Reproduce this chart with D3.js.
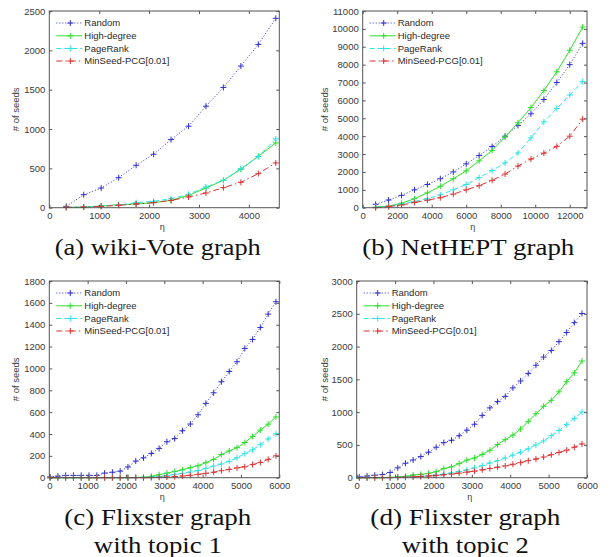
<!DOCTYPE html>
<html><head><meta charset="utf-8">
<script src="https://cdn.jsdelivr.net/npm/d3@7"></script>
<style>
html,body{margin:0;padding:0;background:#fff;}
svg{display:block;}
.cap{font-family:"Liberation Serif","DejaVu Serif","Times New Roman",serif;}
</style>
</head><body>
<svg id="chart" width="612" height="557"></svg>
<script>
// ---------- data ----------
const seriesNames = ["Random", "High-degree", "PageRank", "MinSeed-PCG[0.01]"];
const xLabel = "η";
const yLabel = "# of seeds";

// (a) wiki-Vote
const etaA = [340, 690, 1040, 1390, 1740, 2090, 2440, 2790, 3140, 3490, 3840, 4190, 4540];
const randomA = [17, 165, 250, 382, 539, 679, 866, 1036, 1290, 1528, 1800, 2076, 2407];
const highDegreeA = [4, 8, 21, 38, 47, 64, 93, 157, 250, 348, 488, 654, 823];
const pageRankA = [2, 8, 21, 34, 64, 81, 115, 170, 263, 348, 497, 650, 874];
const minSeedA = [4, 8, 17, 30, 47, 64, 93, 136, 187, 255, 323, 433, 569];
const xTicksA = [0, 1000, 2000, 3000, 4000];
const yTicksA = [0, 500, 1000, 1500, 2000, 2500];
const captionA = ["(a) wiki-Vote graph"];

// (b) NetHEPT
const etaB = [750, 1500, 2250, 3000, 3750, 4500, 5250, 6000, 6750, 7500, 8250, 9000, 9750, 10500, 11250, 12000, 12750];
const randomB = [190, 430, 690, 1000, 1300, 1620, 2000, 2450, 2920, 3420, 4000, 4600, 5250, 6050, 7000, 8000, 9190];
const highDegreeB = [30, 90, 250, 500, 830, 1200, 1620, 2060, 2620, 3200, 3950, 4750, 5600, 6550, 7600, 8800, 10100];
const pageRankB = [20, 80, 200, 350, 500, 720, 1000, 1300, 1680, 2080, 2500, 3060, 3900, 4800, 5550, 6300, 7050];
const minSeedB = [0, 60, 150, 290, 420, 560, 760, 1000, 1230, 1530, 1880, 2330, 2720, 3050, 3430, 4000, 4950];
const xTicksB = [0, 2000, 4000, 6000, 8000, 10000, 12000];
const yTicksB = [0, 1000, 2000, 3000, 4000, 5000, 6000, 7000, 8000, 9000, 10000, 11000];
const captionB = ["(b) NetHEPT graph"];

// (c) Flixster, topic 1
const etaC = [20, 223, 426, 630, 833, 1036, 1239, 1442, 1646, 1849, 2052, 2255, 2458, 2662, 2865, 3068, 3271, 3474, 3678, 3881, 4084, 4287, 4490, 4694, 4897, 5100, 5303, 5506, 5710, 5913];
const randomC = [6, 14, 21, 21, 21, 21, 21, 42, 50, 60, 98, 152, 182, 222, 268, 329, 358, 430, 491, 576, 680, 777, 878, 972, 1061, 1183, 1265, 1375, 1497, 1610];
const highDegreeC = [0, 0, 0, 0, 0, 0, 0, 0, 0, 0, 0, 2, 4, 12, 28, 42, 57, 72, 92, 110, 138, 168, 212, 245, 275, 322, 378, 435, 490, 556];
const pageRankC = [0, 0, 0, 0, 0, 0, 0, 0, 0, 0, 0, 0, 2, 5, 10, 20, 30, 40, 52, 66, 86, 106, 126, 150, 182, 220, 255, 302, 355, 402];
const minSeedC = [0, 0, 0, 0, 0, 0, 0, 0, 0, 0, 0, 0, 0, 1, 3, 6, 10, 16, 22, 30, 40, 50, 64, 76, 90, 100, 120, 140, 168, 200];
const xTicksC = [0, 1000, 2000, 3000, 4000, 5000, 6000];
const yTicksC = [0, 200, 400, 600, 800, 1000, 1200, 1400, 1600, 1800];
const captionC = ["(c) Flixster graph", "with topic 1"];

// (d) Flixster, topic 2
const etaD = [70, 270, 470, 670, 870, 1070, 1270, 1470, 1670, 1870, 2070, 2270, 2470, 2670, 2870, 3070, 3270, 3470, 3670, 3870, 4070, 4270, 4470, 4670, 4870, 5070, 5270, 5470, 5670, 5870];
const randomD = [12, 25, 38, 48, 80, 150, 220, 270, 322, 388, 465, 535, 570, 640, 725, 815, 950, 1065, 1160, 1240, 1370, 1475, 1590, 1715, 1840, 1940, 2075, 2215, 2365, 2505];
const highDegreeD = [0, 0, 0, 0, 5, 10, 20, 41, 51, 66, 92, 140, 165, 215, 268, 300, 355, 418, 505, 580, 650, 743, 860, 975, 1090, 1180, 1310, 1465, 1600, 1780];
const pageRankD = [0, 0, 0, 0, 0, 5, 8, 12, 20, 30, 40, 55, 75, 95, 120, 150, 185, 225, 260, 300, 345, 390, 440, 500, 560, 640, 720, 810, 905, 1002];
const minSeedD = [0, 0, 0, 1, 2, 5, 8, 12, 20, 25, 35, 45, 55, 70, 85, 100, 120, 140, 160, 180, 205, 230, 260, 285, 315, 350, 385, 420, 465, 515];
const xTicksD = [0, 1000, 2000, 3000, 4000, 5000, 6000];
const yTicksD = [0, 500, 1000, 1500, 2000, 2500, 3000];
const captionD = ["(d) Flixster graph", "with topic 2"];

// ---------- styles ----------
const colors = ["#3030d2", "#2ede2e", "#2fe3e3", "#dc3232"];
const dashes = ["1,2", null, "5,3", "6,3,1.5,3"];

const svg = d3.select("#chart");
const sans = "Liberation Sans, Arial, sans-serif";

function drawPanel(cfg) {
  const {box, xMax, yMax, xs, ys, xTicks, yTicks, caption, captionLens, ylabX} = cfg;
  const x = d3.scaleLinear().domain([0, xMax]).range([box.l, box.r]);
  const y = d3.scaleLinear().domain([0, yMax]).range([box.b, box.t]);
  const g = svg.append("g");

  // series
  ys.forEach((vals, si) => {
    const pts = xs.map((xv, i) => [xv, vals[i]]);
    const line = d3.line().x(d => x(d[0])).y(d => y(d[1]));
    const p = g.append("path").attr("d", line(pts))
      .attr("fill", "none").attr("stroke", colors[si]).attr("stroke-width", 1);
    if (dashes[si]) p.attr("stroke-dasharray", dashes[si]);
    g.selectAll(null).data(pts).enter().append("path")
      .attr("transform", d => `translate(${x(d[0])},${y(d[1])})`)
      .attr("d", "M-3,0H3M0,-3V3")
      .attr("stroke", colors[si]).attr("stroke-width", 1).attr("fill", "none");
  });

  // box
  g.append("rect").attr("x", box.l).attr("y", box.t)
    .attr("width", box.r - box.l).attr("height", box.b - box.t)
    .attr("fill", "none").attr("stroke", "#555").attr("stroke-width", 1);

  // axes (ticks inward)
  const xAxis = d3.axisBottom(x).tickValues(xTicks).tickSize(-3).tickPadding(5).tickFormat(d3.format("d"));
  const yAxis = d3.axisLeft(y).tickValues(yTicks).tickSize(-3).tickPadding(4).tickFormat(d3.format("d"));
  const gx = g.append("g").attr("transform", `translate(0,${box.b})`).call(xAxis);
  const gy = g.append("g").attr("transform", `translate(${box.l},0)`).call(yAxis);
  const gxt = g.append("g").attr("transform", `translate(0,${box.t})`).call(d3.axisTop(x).tickValues(xTicks).tickSize(-3).tickFormat(""));
  const gyr = g.append("g").attr("transform", `translate(${box.r},0)`).call(d3.axisRight(y).tickValues(yTicks).tickSize(-3).tickFormat(""));
  [gx, gy, gxt, gyr].forEach(a => {
    a.attr("font-family", null).attr("font-size", null);
    a.select(".domain").remove();
    a.selectAll(".tick line").attr("stroke", "#555");
    a.selectAll("text").attr("fill", "#3a3a3a").attr("font-family", sans).attr("font-size", 9.5);
  });

  // axis labels
  g.append("text").attr("x", (box.l + box.r) / 2 - 2).attr("y", box.b + 22)
    .attr("text-anchor", "middle").attr("font-family", sans).attr("font-size", 9).attr("fill", "#3a3a3a")
    .text(xLabel);
  g.append("text").attr("transform", `translate(${ylabX},${(box.t + box.b) / 2}) rotate(-90)`)
    .attr("text-anchor", "middle").attr("dy", "0.35em").attr("font-family", sans).attr("font-size", 9.5).attr("fill", "#3a3a3a")
    .text(yLabel);

  // legend
  const rowsDy = [12, 24.8, 37.5, 50];
  seriesNames.forEach((name, si) => {
    const ry = box.t + rowsDy[si];
    const l = g.append("line").attr("x1", box.l + 7).attr("x2", box.l + 33).attr("y1", ry).attr("y2", ry)
      .attr("stroke", colors[si]).attr("stroke-width", 1);
    if (dashes[si]) l.attr("stroke-dasharray", dashes[si]);
    g.append("path").attr("transform", `translate(${box.l + 21},${ry})`).attr("d", "M-3,0H3M0,-3V3")
      .attr("stroke", colors[si]).attr("stroke-width", 1);
    g.append("text").attr("x", box.l + 35).attr("y", ry).attr("dy", "0.35em")
      .attr("font-family", sans).attr("font-size", 9.5).attr("fill", "#2a2a2a").text(name);
  });

  // caption
  const cx = (box.l + box.r) / 2 - 6.5;
  caption.forEach((line, i) => {
    g.append("text").attr("class", "cap").attr("x", cx).attr("y", box.b + 47.5 + i * 28)
      .attr("text-anchor", "middle").attr("font-size", 23)
      .attr("fill", "#111")
      .attr("textLength", captionLens[i]).attr("lengthAdjust", "spacingAndGlyphs")
      .text(line);
  });
}

drawPanel({box: {l: 49.3, r: 279.3, t: 11, b: 207.7}, xMax: 4610, yMax: 2500,
  xs: etaA, ys: [randomA, highDegreeA, pageRankA, minSeedA], xTicks: xTicksA, yTicks: yTicksA,
  caption: captionA, captionLens: [206], ylabX: 16});
drawPanel({box: {l: 362.7, r: 587, t: 11, b: 207.7}, xMax: 13000, yMax: 11000,
  xs: etaB, ys: [randomB, highDegreeB, pageRankB, minSeedB], xTicks: xTicksB, yTicks: yTicksB,
  caption: captionB, captionLens: [212], ylabX: 324.3});
drawPanel({box: {l: 49.3, r: 279.3, t: 281, b: 477.7}, xMax: 6000, yMax: 1800,
  xs: etaC, ys: [randomC, highDegreeC, pageRankC, minSeedC], xTicks: xTicksC, yTicks: yTicksC,
  caption: captionC, captionLens: [187, 128], ylabX: 16});
drawPanel({box: {l: 356.7, r: 587, t: 281, b: 477.7}, xMax: 6000, yMax: 3000,
  xs: etaD, ys: [randomD, highDegreeD, pageRankD, minSeedD], xTicks: xTicksD, yTicks: yTicksD,
  caption: captionD, captionLens: [190, 127], ylabX: 324.3});
</script>
</body></html>
